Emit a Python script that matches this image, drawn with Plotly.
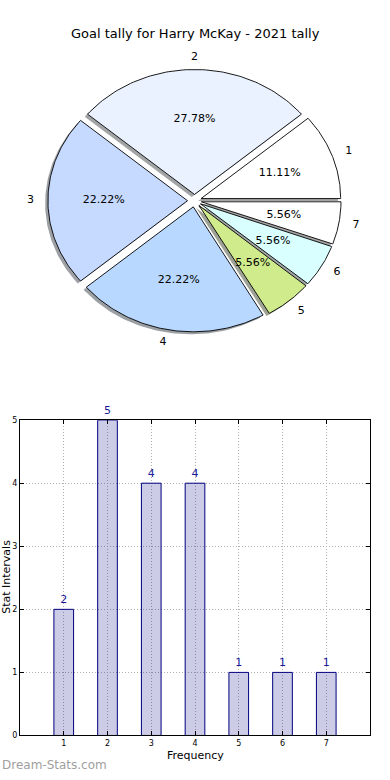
import numpy as np
import plotly.graph_objects as go

# ---------------- data ----------------
chart_title = "Goal tally for Harry McKay - 2021 tally"
slice_labels = ["1", "2", "3", "4", "5", "6", "7"]
slice_counts = [2, 5, 4, 4, 1, 1, 1]
slice_colors = ["#ffffff", "#eaf2ff", "#c6d9ff", "#b8d8ff", "#d0eb8b", "#d9ffff", "#ffffff"]

bar_categories = [1, 2, 3, 4, 5, 6, 7]
bar_values = [2, 5, 4, 4, 1, 1, 1]
x_title = "Frequency"
y_title = "Stat Intervals"
watermark = "Dream-Stats.com"

EXPLODE = 0.05
FONT = "DejaVu Sans"

fig = go.Figure()

# ---------------- pie (matplotlib-style, drawn on a data axis) ----------------
total = float(sum(slice_counts))
angles = np.cumsum([0] + [360.0 * c / total for c in slice_counts])


def hex_to_rgb(h):
    h = h.lstrip("#")
    return tuple(int(h[i:i + 2], 16) for i in (0, 2, 4))


wedges = []
for i, c in enumerate(slice_counts):
    t1, t2 = angles[i], angles[i + 1]
    mid = np.deg2rad((t1 + t2) / 2)
    ox, oy = EXPLODE * np.cos(mid), EXPLODE * np.sin(mid)
    th = np.deg2rad(np.linspace(t1, t2, 80))
    xs = np.concatenate([[ox], ox + np.cos(th), [ox]])
    ys = np.concatenate([[oy], oy + np.sin(th), [oy]])
    wedges.append((xs, ys, ox, oy, mid))

# shadows first
for i, (xs, ys, ox, oy, mid) in enumerate(wedges):
    r, g, b = hex_to_rgb(slice_colors[i])
    fig.add_trace(go.Scatter(
        x=xs - 0.02, y=ys - 0.02, mode="lines", fill="toself",
        fillcolor=f"rgba({0.3*r:.0f},{0.3*g:.0f},{0.3*b:.0f},0.5)",
        line=dict(width=0), hoverinfo="skip", showlegend=False,
        xaxis="x", yaxis="y"))

for i, (xs, ys, ox, oy, mid) in enumerate(wedges):
    fig.add_trace(go.Scatter(
        x=xs, y=ys, mode="lines", fill="toself", fillcolor=slice_colors[i],
        line=dict(color="black", width=0.9), hoverinfo="skip", showlegend=False,
        xaxis="x", yaxis="y"))

# percent labels and slice labels
pct_x, pct_y, pct_t = [], [], []
lab_x, lab_y, lab_pos = [], [], []
for i, (xs, ys, ox, oy, mid) in enumerate(wedges):
    pct_x.append(ox + 0.6 * np.cos(mid))
    pct_y.append(oy + 0.6 * np.sin(mid))
    pct_t.append("%.2f%%" % (100.0 * slice_counts[i] / total))
    lx = ox + 1.1 * np.cos(mid)
    lab_x.append(lx)
    lab_y.append(oy + 1.1 * np.sin(mid))
    if abs(np.cos(mid)) < 1e-6:
        lab_pos.append("middle center")
    elif lx > 0:
        lab_pos.append("middle right")
    else:
        lab_pos.append("middle left")

fig.add_trace(go.Scatter(
    x=pct_x, y=pct_y, text=pct_t, mode="text", textposition="middle center",
    textfont=dict(family=FONT, size=11, color="black"),
    hoverinfo="skip", showlegend=False, xaxis="x", yaxis="y"))
fig.add_trace(go.Scatter(
    x=lab_x, y=lab_y, text=slice_labels, mode="text", textposition=lab_pos,
    textfont=dict(family=FONT, size=11, color="black"),
    hoverinfo="skip", showlegend=False, xaxis="x", yaxis="y", cliponaxis=False))

# ---------------- bar chart ----------------
fig.add_trace(go.Bar(
    x=bar_categories, y=bar_values, width=0.45,
    marker=dict(color="rgba(0,0,128,0.2)", line=dict(color="#000080", width=1)),
    text=[str(v) for v in bar_values], textposition="outside",
    textfont=dict(family=FONT, size=11, color="#1a1a99"),
    cliponaxis=False, hoverinfo="skip", showlegend=False,
    xaxis="x2", yaxis="y2"))

W, H = 390, 780
GRID = dict(showgrid=True, gridcolor="#b0b0b0", griddash="1px,2px", gridwidth=1)
fig.update_layout(
    width=W, height=H,
    margin=dict(l=0, r=0, t=0, b=0),
    paper_bgcolor="white", plot_bgcolor="white",
    font=dict(family=FONT, color="black"),
    showlegend=False,
    xaxis=dict(domain=[20 / W, 369 / W], range=[-1.25, 1.25], visible=False, fixedrange=True),
    yaxis=dict(domain=[1 - 357 / H, 1 - 41 / H], range=[-1.25, 1.25], visible=False, fixedrange=True),
    xaxis2=dict(domain=[20 / W, 370 / W], range=[0, 8], anchor="y2",
                tickmode="array", tickvals=bar_categories, ticktext=[str(c) for c in bar_categories],
                ticks="inside", ticklen=4, tickcolor="black",
                showline=True, linecolor="black", linewidth=1, mirror="ticks",
                zeroline=False, layer="above traces",
                tickfont=dict(family=FONT, size=8, color="black"), **GRID),
    yaxis2=dict(domain=[1 - 740 / H, 1 - 421 / H], range=[0, 5], anchor="x2",
                tickmode="array", tickvals=[0, 1, 2, 3, 4, 5],
                ticks="inside", ticklen=4, tickcolor="black",
                showline=True, linecolor="black", linewidth=1, mirror="ticks",
                zeroline=False, layer="above traces",
                tickfont=dict(family=FONT, size=8, color="black"), **GRID),
    annotations=[
        dict(text=chart_title, x=0.5, y=1 - 30 / H, xref="paper", yref="paper",
             xanchor="center", yanchor="middle", showarrow=False,
             font=dict(family=FONT, size=13, color="black")),
        dict(text=x_title, x=(20 + 370) / 2 / W, y=1 - 760 / H, xref="paper", yref="paper",
             xanchor="center", yanchor="middle", showarrow=False,
             font=dict(family=FONT, size=11, color="black")),
        dict(text=y_title, x=6.5 / W, y=1 - 580 / H, xref="paper", yref="paper",
             xanchor="center", yanchor="middle", showarrow=False, textangle=-90,
             font=dict(family=FONT, size=11, color="black")),
        dict(text=watermark, x=0, y=1 - 770 / H, xref="paper", yref="paper",
             xanchor="left", yanchor="middle", showarrow=False,
             font=dict(family=FONT, size=12, color="#a0a0a0")),
    ],
)

fig.write_html(
    "out.html",
    config={"displayModeBar": False, "responsive": False},
    post_script="document.body.style.margin='0';document.body.style.overflow='hidden';",
)
